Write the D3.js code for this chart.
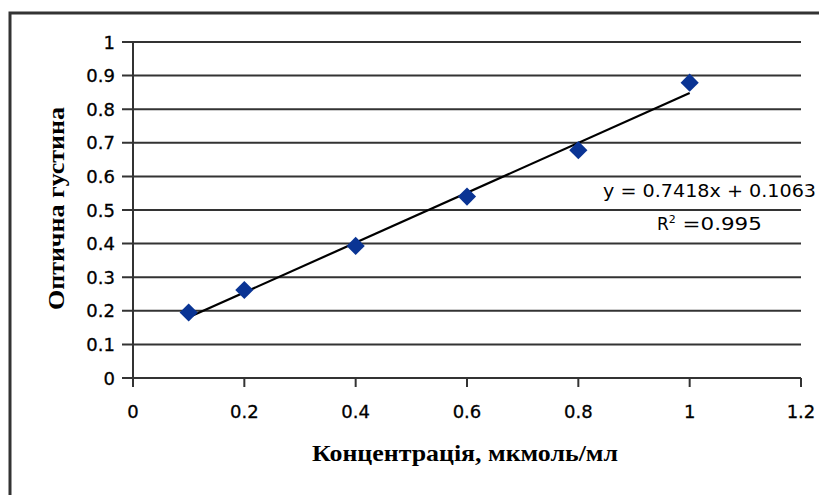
<!DOCTYPE html>
<html>
<head>
<meta charset="utf-8">
<script src="https://cdn.jsdelivr.net/npm/d3@7"></script>
<style>
  html, body { margin: 0; padding: 0; background: #fff; }
  svg { display: block; }
</style>
</head>
<body>
<svg id="chart" width="819" height="495"></svg>
<script>
// Calibration data: concentration (µmol/ml) vs optical density
const concentration = [0.1, 0.2, 0.4, 0.6, 0.8, 1.0];
const opticalDensity = [0.195, 0.262, 0.393, 0.54, 0.678, 0.879];
const xTicks = [0, 0.2, 0.4, 0.6, 0.8, 1, 1.2];
const yTicks = [0, 0.1, 0.2, 0.3, 0.4, 0.5, 0.6, 0.7, 0.8, 0.9, 1];
const trendSlope = 0.7418;
const trendIntercept = 0.1063;
const rSquared = 0.995;

const svg = d3.select("#chart");
const gridColor = "#333";

// outer frame of the chart area
svg.append("rect")
  .attr("x", 10).attr("y", 13).attr("width", 900).attr("height", 600)
  .attr("fill", "none").attr("stroke", "#333").attr("stroke-width", 3);

const x = d3.scaleLinear().domain([0, 1.2]).range([133, 801]);
const y = d3.scaleLinear().domain([0, 1]).range([378, 42]);

// horizontal gridlines (extend a little left of the axis as ticks)
svg.append("g").selectAll("line").data(yTicks).join("line")
  .attr("x1", 122).attr("x2", 801)
  .attr("y1", d => y(d)).attr("y2", d => y(d))
  .attr("stroke", gridColor).attr("stroke-width", 2);

// vertical axis line
svg.append("line")
  .attr("x1", x(0)).attr("x2", x(0)).attr("y1", y(1)).attr("y2", y(0) + 9)
  .attr("stroke", gridColor).attr("stroke-width", 2);

// x-axis ticks
svg.append("g").selectAll("line").data(xTicks).join("line")
  .attr("x1", d => x(d)).attr("x2", d => x(d))
  .attr("y1", y(0)).attr("y2", y(0) + 9)
  .attr("stroke", gridColor).attr("stroke-width", 2);

const tickFont = "'DejaVu Sans', sans-serif";
const fmt = d => String(d);

// y tick labels
svg.append("g").selectAll("text").data(yTicks).join("text")
  .attr("x", 115).attr("y", d => y(d) + 6.5)
  .attr("text-anchor", "end")
  .attr("font-family", tickFont).attr("font-size", 18).attr("fill", "#000")
  .attr("stroke", "#000").attr("stroke-width", 0.3)
  .text(fmt);

// x tick labels
svg.append("g").selectAll("text").data(xTicks).join("text")
  .attr("x", d => x(d)).attr("y", 418)
  .attr("text-anchor", "middle")
  .attr("font-family", tickFont).attr("font-size", 18).attr("fill", "#000")
  .attr("stroke", "#000").attr("stroke-width", 0.3)
  .text(fmt);

// linear trendline over the measured range
const xr = d3.extent(concentration);
svg.append("line")
  .attr("x1", x(xr[0])).attr("y1", y(trendSlope * xr[0] + trendIntercept))
  .attr("x2", x(xr[1])).attr("y2", y(trendSlope * xr[1] + trendIntercept))
  .attr("stroke", "#000").attr("stroke-width", 2.2);

// diamond markers
const diamond = d3.symbol().type(d3.symbolSquare).size(165);
svg.append("g").selectAll("path").data(concentration).join("path")
  .attr("d", diamond)
  .attr("transform", (d, i) => `translate(${x(d)},${y(opticalDensity[i])}) rotate(45)`)
  .attr("fill", "#0a3494");

// regression equation and R²
svg.append("text")
  .attr("x", 603).attr("y", 197)
  .attr("font-family", tickFont).attr("font-size", 17).attr("fill", "#000")
  .attr("textLength", 213).attr("lengthAdjust", "spacingAndGlyphs")
  .text(`y = ${trendSlope}x + ${trendIntercept}`);

const r2 = svg.append("text")
  .attr("x", 657).attr("y", 230)
  .attr("font-family", tickFont).attr("font-size", 17).attr("fill", "#000");
r2.append("tspan").text("R");
r2.append("tspan").attr("dy", -7).attr("font-size", 11).text("2");
r2.append("tspan").attr("dy", 7).attr("textLength", 86).attr("lengthAdjust", "spacingAndGlyphs")
  .text(` =${rSquared}`);

// axis titles
const titleFont = "'Liberation Serif', 'Times New Roman', serif";
svg.append("text")
  .attr("x", 312).attr("y", 461)
  .attr("font-family", titleFont).attr("font-weight", "bold").attr("font-size", 24)
  .attr("fill", "#000")
  .attr("textLength", 306).attr("lengthAdjust", "spacingAndGlyphs")
  .text("Концентрація, мкмоль/мл");

svg.append("text")
  .attr("transform", "translate(64,310) rotate(-90)")
  .attr("font-family", titleFont).attr("font-weight", "bold").attr("font-size", 24)
  .attr("fill", "#000")
  .attr("textLength", 203).attr("lengthAdjust", "spacingAndGlyphs")
  .text("Оптична густина");
</script>
</body>
</html>
